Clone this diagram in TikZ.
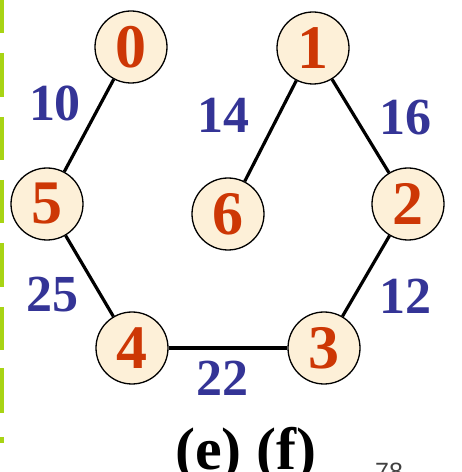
\documentclass[tikz,border=0pt]{standalone}
\usepackage{fontspec}
\setmainfont{Liberation Serif}
\newfontfamily\numsans{Liberation Sans}
\definecolor{nodefill}{RGB}{253,240,216}
\definecolor{nodered}{RGB}{205,55,5}
\definecolor{wblue}{RGB}{52,52,150}
\definecolor{bargreen}{RGB}{168,212,20}
\tikzset{
  vtx/.style={circle, draw=black, line width=1.3pt, fill=nodefill, minimum size=72pt, inner sep=0pt,
    text=nodered, font=\fontsize{62}{62}\selectfont\bfseries},
  wlabel/.style={text=wblue, inner sep=0pt, font=\fontsize{52}{52}\selectfont\bfseries},
  edge/.style={line width=3.2pt, black},
  bar/.style={bargreen, line width=3.5pt}
}
\begin{document}
\begin{tikzpicture}[x=1pt,y=1pt]
\useasboundingbox (0,0) rectangle (462,472);
\clip (0,0) rectangle (462,472);
% green dashed bar on the left
\foreach \a/\b in {0/33,53/97,117/160,180/223,243/287,307/350,368/413,437/443}
  \draw[bar] (1.75,472-\a) -- (1.75,472-\b);
% vertices
\node[vtx] (n0) at (131,472-47) {0};
\node[vtx] (n1) at (313,472-48) {1};
\node[vtx] (n5) at (47,472-204) {5};
\node[vtx] (n6) at (228,472-214) {6};
\node[vtx] (n2) at (408,472-204) {2};
\node[vtx] (n4) at (132,472-348) {4};
\node[vtx] (n3) at (324,472-348) {3};
% edges
\draw[edge] (n0) -- (n5);
\draw[edge] (n1) -- (n6);
\draw[edge] (n1) -- (n2);
\draw[edge] (n5) -- (n4);
\draw[edge] (n2) -- (n3);
\draw[edge] (n4) -- (n3);
% weights
\node[wlabel] (w10) at (55,472-103) {10};
\node[wlabel] (w14) at (223,472-115) {14};
\node[wlabel] (w16) at (405,472-118) {16};
\node[wlabel] (w25) at (53,472-295) {25};
\node[wlabel] (w12) at (405,472-296) {12};
\node[wlabel] (w22) at (222,472-378) {22};
% caption (cut off at the lower edge, as in the reference)
\node[anchor=north, inner sep=0pt, font=\fontsize{60}{60}\selectfont\bfseries] (cap) at (246,472-427) {(e)\ (f)};
\node[anchor=north west, inner sep=0pt, text=black!75, font=\fontsize{25}{25}\selectfont\numsans] (pg) at (375,472-463) {78};
\end{tikzpicture}
\end{document}
